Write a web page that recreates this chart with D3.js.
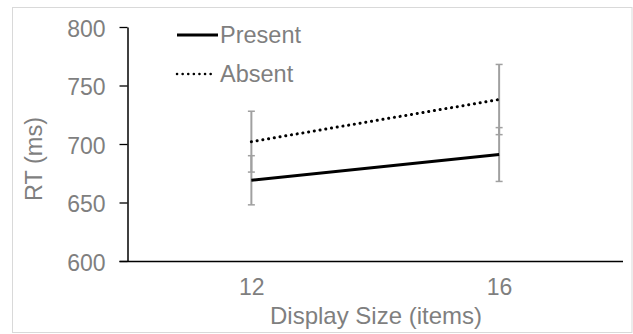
<!DOCTYPE html>
<html><head><meta charset="utf-8">
<script src="https://cdn.jsdelivr.net/npm/d3@7"></script>
<style>html,body{margin:0;padding:0;background:#fff;}svg{display:block;}</style>
</head><body>
<svg id="chart" width="633" height="334"></svg>
<script>
const displaySizes = [12, 16];
const presentRT = [669, 691];
const presentErr = [21, 23];
const absentRT = [702, 738];
const absentErr = [26, 30];
const yTicks = [600, 650, 700, 750, 800];
const xTicks = [12, 16];
const seriesNames = ["Present", "Absent"];

const svg = d3.select("#chart");
const font = "'Liberation Sans', Arial, sans-serif";
const textColor = "#7f7f7f";

svg.append("rect").attr("x", 12.5).attr("y", 7.5).attr("width", 619.5).attr("height", 325)
  .attr("fill", "#fff").attr("stroke", "#d9d9d9").attr("stroke-width", 1);

const x = d3.scaleLinear().domain([10, 18]).range([127.5, 623]);
const y = d3.scaleLinear().domain([600, 800]).range([261, 27]);

// Y axis
const yAxis = svg.append("g").attr("transform", "translate(127.5,0)")
  .call(d3.axisLeft(y).tickValues(yTicks).tickSize(8).tickPadding(14).tickSizeOuter(0));
yAxis.select(".domain").attr("stroke", "#000").attr("stroke-width", 1.5);
yAxis.selectAll(".tick line").attr("stroke", "#000").attr("stroke-width", 1.3);
yAxis.selectAll(".tick text").attr("fill", textColor).style("font-family", font).style("font-size", "23px").attr("dy", "0.4em");

// X axis
const xAxis = svg.append("g").attr("transform", "translate(0,261)")
  .call(d3.axisBottom(x).tickValues(xTicks).tickSize(0).tickPadding(18).tickSizeOuter(0));
xAxis.select(".domain").attr("stroke", "#000").attr("stroke-width", 1.5).attr("d", `M119.5,0.5H${x(18)}`);
xAxis.selectAll(".tick text").attr("fill", textColor).style("font-family", font).style("font-size", "23px");

// Axis titles
svg.append("text").attr("x", 376).attr("y", 324).attr("text-anchor", "middle")
  .attr("fill", textColor).style("font-family", font).style("font-size", "24px").text("Display Size (items)");
svg.append("text").attr("transform", "translate(42,159) rotate(-90)").attr("text-anchor", "middle")
  .attr("fill", textColor).style("font-family", font).style("font-size", "23.5px").text("RT (ms)");

const series = [
  { name: seriesNames[0], vals: presentRT, err: presentErr, dash: null },
  { name: seriesNames[1], vals: absentRT, err: absentErr, dash: "0.1 5.7" }
];

// Error bars
const errG = svg.append("g");
series.forEach(s => {
  displaySizes.forEach((d, i) => {
    const cx = x(d), top = y(s.vals[i] + s.err[i]), bot = y(s.vals[i] - s.err[i]);
    errG.append("line").attr("x1", cx).attr("x2", cx).attr("y1", top).attr("y2", bot)
      .attr("stroke", "#a0a0a0").attr("stroke-width", 2);
    [top, bot].forEach(yy => errG.append("line").attr("x1", cx - 3.5).attr("x2", cx + 3.5)
      .attr("y1", yy).attr("y2", yy).attr("stroke", "#a0a0a0").attr("stroke-width", 1.5));
  });
});

// Lines
const line = d3.line().x((d, i) => x(displaySizes[i])).y(d => y(d));
series.forEach(s => {
  const p = svg.append("path").datum(s.vals).attr("d", line).attr("fill", "none")
    .attr("stroke", "#000").attr("stroke-width", 3);
  if (s.dash) p.attr("stroke-dasharray", s.dash).attr("stroke-linecap", "round").attr("stroke-width", 3);
});

// Legend
const legY = [35, 74];
series.forEach((s, i) => {
  const l = svg.append("line").attr("x1", 177).attr("x2", s.dash ? 216 : 218).attr("y1", legY[i]).attr("y2", legY[i])
    .attr("stroke", "#000").attr("stroke-width", 3);
  if (s.dash) l.attr("stroke-dasharray", "0.1 5.5").attr("stroke-linecap", "round").attr("stroke-width", 2.5);
  svg.append("text").attr("x", 220).attr("y", legY[i]).attr("dy", "0.36em").attr("fill", textColor)
    .style("font-family", font).style("font-size", "23.5px").text(s.name);
});
</script>
</body></html>
